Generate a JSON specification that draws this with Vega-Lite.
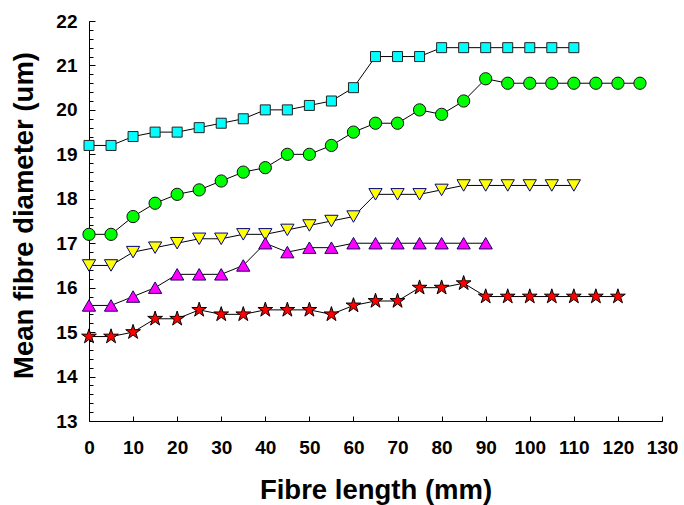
{
  "$schema": "https://vega.github.io/schema/vega-lite/v6.json",
  "autosize": {"type": "none"},
  "width": 573,
  "height": 400,
  "padding": {"left": 89, "top": 21, "right": 22, "bottom": 84},
  "config": {"view": {"stroke": null}, "font": "Liberation Sans"},
  "data": {"values": [
    {"s":"A","x":0,"y":19.2},{"s":"A","x":5,"y":19.2},{"s":"A","x":10,"y":19.4},{"s":"A","x":15,"y":19.5},{"s":"A","x":20,"y":19.5},{"s":"A","x":25,"y":19.6},{"s":"A","x":30,"y":19.7},{"s":"A","x":35,"y":19.8},{"s":"A","x":40,"y":20.0},{"s":"A","x":45,"y":20.0},{"s":"A","x":50,"y":20.1},{"s":"A","x":55,"y":20.2},{"s":"A","x":60,"y":20.5},{"s":"A","x":65,"y":21.2},{"s":"A","x":70,"y":21.2},{"s":"A","x":75,"y":21.2},{"s":"A","x":80,"y":21.4},{"s":"A","x":85,"y":21.4},{"s":"A","x":90,"y":21.4},{"s":"A","x":95,"y":21.4},{"s":"A","x":100,"y":21.4},{"s":"A","x":105,"y":21.4},{"s":"A","x":110,"y":21.4},
    {"s":"B","x":0,"y":17.2},{"s":"B","x":5,"y":17.2},{"s":"B","x":10,"y":17.6},{"s":"B","x":15,"y":17.9},{"s":"B","x":20,"y":18.1},{"s":"B","x":25,"y":18.2},{"s":"B","x":30,"y":18.4},{"s":"B","x":35,"y":18.6},{"s":"B","x":40,"y":18.7},{"s":"B","x":45,"y":19.0},{"s":"B","x":50,"y":19.0},{"s":"B","x":55,"y":19.2},{"s":"B","x":60,"y":19.5},{"s":"B","x":65,"y":19.7},{"s":"B","x":70,"y":19.7},{"s":"B","x":75,"y":20.0},{"s":"B","x":80,"y":19.9},{"s":"B","x":85,"y":20.2},{"s":"B","x":90,"y":20.7},{"s":"B","x":95,"y":20.6},{"s":"B","x":100,"y":20.6},{"s":"B","x":105,"y":20.6},{"s":"B","x":110,"y":20.6},{"s":"B","x":115,"y":20.6},{"s":"B","x":120,"y":20.6},{"s":"B","x":125,"y":20.6},
    {"s":"C","x":0,"y":16.5},{"s":"C","x":5,"y":16.5},{"s":"C","x":10,"y":16.8},{"s":"C","x":15,"y":16.9},{"s":"C","x":20,"y":17.0},{"s":"C","x":25,"y":17.1},{"s":"C","x":30,"y":17.1},{"s":"C","x":35,"y":17.2},{"s":"C","x":40,"y":17.2},{"s":"C","x":45,"y":17.3},{"s":"C","x":50,"y":17.4},{"s":"C","x":55,"y":17.5},{"s":"C","x":60,"y":17.6},{"s":"C","x":65,"y":18.1},{"s":"C","x":70,"y":18.1},{"s":"C","x":75,"y":18.1},{"s":"C","x":80,"y":18.2},{"s":"C","x":85,"y":18.3},{"s":"C","x":90,"y":18.3},{"s":"C","x":95,"y":18.3},{"s":"C","x":100,"y":18.3},{"s":"C","x":105,"y":18.3},{"s":"C","x":110,"y":18.3},
    {"s":"D","x":0,"y":15.6},{"s":"D","x":5,"y":15.6},{"s":"D","x":10,"y":15.8},{"s":"D","x":15,"y":16.0},{"s":"D","x":20,"y":16.3},{"s":"D","x":25,"y":16.3},{"s":"D","x":30,"y":16.3},{"s":"D","x":35,"y":16.5},{"s":"D","x":40,"y":17.0},{"s":"D","x":45,"y":16.8},{"s":"D","x":50,"y":16.9},{"s":"D","x":55,"y":16.9},{"s":"D","x":60,"y":17.0},{"s":"D","x":65,"y":17.0},{"s":"D","x":70,"y":17.0},{"s":"D","x":75,"y":17.0},{"s":"D","x":80,"y":17.0},{"s":"D","x":85,"y":17.0},{"s":"D","x":90,"y":17.0},
    {"s":"E","x":0,"y":14.9},{"s":"E","x":5,"y":14.9},{"s":"E","x":10,"y":15.0},{"s":"E","x":15,"y":15.3},{"s":"E","x":20,"y":15.3},{"s":"E","x":25,"y":15.5},{"s":"E","x":30,"y":15.4},{"s":"E","x":35,"y":15.4},{"s":"E","x":40,"y":15.5},{"s":"E","x":45,"y":15.5},{"s":"E","x":50,"y":15.5},{"s":"E","x":55,"y":15.4},{"s":"E","x":60,"y":15.6},{"s":"E","x":65,"y":15.7},{"s":"E","x":70,"y":15.7},{"s":"E","x":75,"y":16.0},{"s":"E","x":80,"y":16.0},{"s":"E","x":85,"y":16.1},{"s":"E","x":90,"y":15.8},{"s":"E","x":95,"y":15.8},{"s":"E","x":100,"y":15.8},{"s":"E","x":105,"y":15.8},{"s":"E","x":110,"y":15.8},{"s":"E","x":115,"y":15.8},{"s":"E","x":120,"y":15.8}
  ]},
  "resolve": {"axis": {"y": "independent"}},
  "layer": [
    {
      "mark": {"type": "line", "color": "black", "strokeWidth": 1},
      "encoding": {
        "x": {"field": "x", "type": "quantitative",
          "scale": {"domain": [0, 130], "nice": false, "zero": false},
          "axis": {"values": [0,5,10,15,20,25,30,35,40,45,50,55,60,65,70,75,80,85,90,95,100,105,110,115,120,125,130],
            "labelExpr": "datum.value % 10 == 0 ? datum.label : ''",
            "grid": false, "tickSize": -5, "labelPadding": 22, "tickColor": "black", "domainColor": "black",
            "labelFont": "Liberation Sans", "labelFontWeight": "bold", "labelFontSize": 19, "labelColor": "black",
            "labelOverlap": false, "labelFlush": false,
            "title": "Fibre length (mm)", "titleFont": "Liberation Sans", "titleFontWeight": "bold", "titleFontSize": 27.5,
            "titleColor": "black", "titleBaseline": "alphabetic", "titleY": 77}},
        "y": {"field": "y", "type": "quantitative",
          "scale": {"domain": [13, 22], "nice": false, "zero": false},
          "axis": {"orient": "left", "values": [13,14,15,16,17,18,19,20,21,22],
            "grid": false, "tickSize": -6, "labelPadding": 18, "tickColor": "black", "domainColor": "black",
            "labelFont": "Liberation Sans", "labelFontWeight": "bold", "labelFontSize": 19, "labelColor": "black",
            "labelOverlap": false, "labelFlush": false,
            "title": "Mean fibre diameter (um)", "titleFont": "Liberation Sans", "titleFontWeight": "bold", "titleFontSize": 27.5,
            "titleColor": "black", "titleAngle": 270, "titleBaseline": "alphabetic", "titleAlign": "center", "titleX": -57, "titleY": 194}},
        "detail": {"field": "s"}
      }
    },
    {
      "mark": {"type": "point", "filled": true, "opacity": 1, "strokeWidth": 1},
      "encoding": {
        "x": {"field": "x", "type": "quantitative"},
        "y": {"field": "y", "type": "quantitative",
          "axis": {"orient": "left", "values": [13,13.2,13.4,13.6,13.8,14,14.2,14.4,14.6,14.8,15,15.2,15.4,15.6,15.8,16,16.2,16.4,16.6,16.8,17,17.2,17.4,17.6,17.8,18,18.2,18.4,18.6,18.8,19,19.2,19.4,19.6,19.8,20,20.2,20.4,20.6,20.8,21,21.2,21.4,21.6,21.8,22],
            "labels": false, "domain": false, "grid": false, "tickSize": -4, "tickColor": "black", "title": null}},
        "shape": {"field": "s", "type": "nominal", "legend": null,
          "scale": {"domain": ["A","B","C","D","E"], "range": ["square","circle","triangle-down","triangle-up","M0,-1L0.223,-0.307L0.951,-0.309L0.361,0.117L0.588,0.809L0,0.38L-0.588,0.809L-0.361,0.117L-0.951,-0.309L-0.223,-0.307Z"]}},
        "fill": {"field": "s", "type": "nominal", "legend": null,
          "scale": {"domain": ["A","B","C","D","E"], "range": ["#00FFFF","#00FF00","#FFFF00","#FF00FF","#FF0000"]}},
        "stroke": {"field": "s", "type": "nominal", "legend": null,
          "scale": {"domain": ["A","B","C","D","E"], "range": ["#222222","#111111","#000080","#1a0060","#000000"]}},
        "size": {"field": "s", "type": "ordinal", "legend": null,
          "scale": {"type": "ordinal", "domain": ["A","B","C","D","E"], "range": [100, 150, 175, 175, 240]}}
      }
    }
  ]
}
